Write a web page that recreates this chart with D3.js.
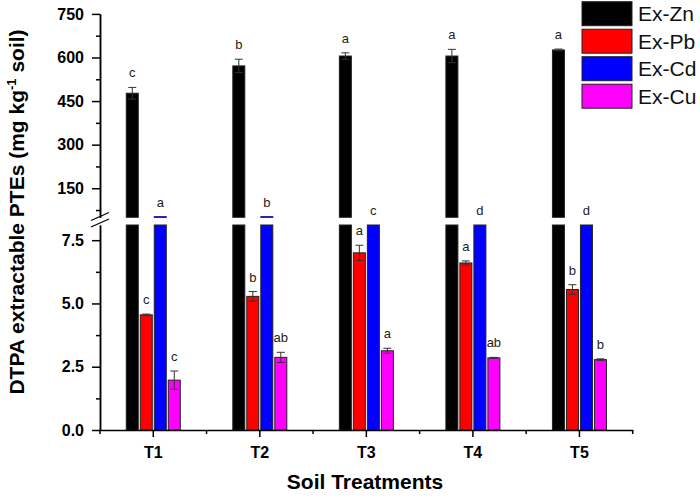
<!DOCTYPE html>
<html>
<head>
<meta charset="utf-8">
<script src="https://cdn.jsdelivr.net/npm/d3@7"></script>
<style>
  html, body { margin: 0; padding: 0; background: #ffffff; }
  svg { display: block; }
  text { font-family: "Liberation Sans", Arial, sans-serif; }
</style>
</head>
<body>
<svg id="chart" width="700" height="499"></svg>
<script>
// ---- data ----
const treatments = ["T1", "T2", "T3", "T4", "T5"];
const seriesNames = ["Ex-Zn", "Ex-Pb", "Ex-Cd", "Ex-Cu"];
const seriesColors = ["#000000", "#ff0000", "#0000ff", "#ff00ff"];

const znValues = [477, 571, 605, 605, 626];
const znErrors = [20, 23, 11, 23, 3];
const znLetters = ["c", "b", "a", "a", "a"];

const pbValues = [4.55, 5.28, 7.0, 6.6, 5.55];
const pbErrors = [0.03, 0.19, 0.30, 0.08, 0.19];
const pbLetters = ["c", "b", "a", "a", "b"];

const cdValues = [52, 52, 40, 30, 30];
const cdErrors = [0, 0, 0, 0, 0];
const cdLetters = ["a", "b", "c", "d", "d"];

const cuValues = [1.97, 2.87, 3.13, 2.85, 2.78];
const cuErrors = [0.36, 0.2, 0.1, 0.02, 0.03];
const cuLetters = ["c", "ab", "a", "ab", "b"];

const lowerTicks = [0, 2.5, 5, 7.5];
const lowerMinorTicks = [1.25, 3.75, 6.25];
const upperTicks = [150, 300, 450, 600, 750];
const upperMinorTicks = [75, 225, 375, 525, 675];
const lowerDomain = [0, 8.1];
const upperDomain = [50, 750];

const yTitle = "DTPA extractable PTEs (mg kg";
const yTitleSup = "-1";
const yTitleEnd = " soil)";
const xTitle = "Soil Treatments";

// ---- build ----
const allSeries = [
  { name: seriesNames[0], color: seriesColors[0], values: znValues, errors: znErrors, letters: znLetters },
  { name: seriesNames[1], color: seriesColors[1], values: pbValues, errors: pbErrors, letters: pbLetters },
  { name: seriesNames[2], color: seriesColors[2], values: cdValues, errors: cdErrors, letters: cdLetters },
  { name: seriesNames[3], color: seriesColors[3], values: cuValues, errors: cuErrors, letters: cuLetters }
];

const svg = d3.select("#chart");
const left = 100, right = 632.7, bottom = 430;

const x = d3.scaleBand().domain(treatments).range([left, right]).padding(0);
const x1 = d3.scaleBand().domain(seriesNames).range([-27, 27]).paddingInner(1 / 7).paddingOuter(0);
const yLow = d3.scaleLinear().domain(lowerDomain).range([bottom, 225]);
const yHigh = d3.scaleLinear().domain(upperDomain).range([217.3, 13.9]);

function topY(v) {
  if (v <= lowerDomain[1]) return yLow(v);
  if (v < upperDomain[0]) return yLow(lowerDomain[1]);
  return yHigh(v);
}

const barsG = svg.append("g");
allSeries.forEach(s => {
  treatments.forEach((t, i) => {
    const v = s.values[i];
    const bx = x(t) + x.bandwidth() / 2 + x1(s.name);
    const bw = x1.bandwidth();
    // lower segment
    const vl = Math.min(v, lowerDomain[1]);
    barsG.append("rect")
      .attr("x", bx).attr("width", bw)
      .attr("y", yLow(vl)).attr("height", yLow(0) - yLow(vl))
      .attr("fill", s.color).attr("stroke", "#222").attr("stroke-width", 1);
    // upper segment
    if (v > upperDomain[0]) {
      const h = yHigh(upperDomain[0]) - yHigh(v);
      barsG.append("rect")
        .attr("x", bx).attr("width", bw)
        .attr("y", yHigh(v)).attr("height", h)
        .attr("fill", s.color)
        .attr("stroke", h < 3 ? d3.color(s.color).darker(1.2) : "#222")
        .attr("stroke-width", 1);
    }
    // error bar
    const e = s.errors[i];
    const cx = bx + bw / 2;
    if (e > 0) {
      const yt = topY(v + e), yb = topY(v - e);
      barsG.append("line").attr("x1", cx).attr("x2", cx).attr("y1", yt).attr("y2", yb)
        .attr("stroke", "#333").attr("stroke-width", 1);
      [yt, yb].forEach(yy => {
        barsG.append("line").attr("x1", cx - 4).attr("x2", cx + 4).attr("y1", yy).attr("y2", yy)
          .attr("stroke", "#333").attr("stroke-width", 1);
      });
    }
    // letter
    barsG.append("text")
      .attr("x", cx).attr("y", topY(v + e) - 10)
      .attr("text-anchor", "middle")
      .attr("font-size", 13).attr("fill", "#222")
      .text(s.letters[i]);
  });
});

// ---- axes ----
function styleAxis(g, fs) {
  g.selectAll("path.domain").attr("stroke", "#000").attr("stroke-width", 1.5);
  g.selectAll(".tick line").attr("stroke", "#000").attr("stroke-width", 1.5);
  g.selectAll(".tick text").attr("font-size", fs).attr("font-weight", "bold")
    .attr("fill", "#000").attr("font-family", "'Liberation Sans', Arial, sans-serif");
}

const gLow = svg.append("g").attr("transform", `translate(${left},0)`)
  .call(d3.axisLeft(yLow).tickValues(lowerTicks).tickFormat(d3.format(".1f")).tickSize(8).tickSizeOuter(0).tickPadding(8));
styleAxis(gLow, 16);
const gLowMinor = svg.append("g").attr("transform", `translate(${left},0)`)
  .call(d3.axisLeft(yLow).tickValues(lowerMinorTicks).tickFormat("").tickSize(4).tickSizeOuter(0));
styleAxis(gLowMinor, 16);

const gHigh = svg.append("g").attr("transform", `translate(${left},0)`)
  .call(d3.axisLeft(yHigh).tickValues(upperTicks).tickFormat(d3.format("d")).tickSize(8).tickSizeOuter(0).tickPadding(8));
styleAxis(gHigh, 16);
const gHighMinor = svg.append("g").attr("transform", `translate(${left},0)`)
  .call(d3.axisLeft(yHigh).tickValues(upperMinorTicks).tickFormat("").tickSize(4).tickSizeOuter(0));
styleAxis(gHighMinor, 16);

// break marks
const brk = svg.append("g").attr("stroke", "#000").attr("stroke-width", 1.2);
brk.append("line").attr("x1", left - 9).attr("y1", 220.5).attr("x2", left + 9).attr("y2", 212.5);
brk.append("line").attr("x1", left - 9).attr("y1", 227).attr("x2", left + 9).attr("y2", 219);

const gx = svg.append("g").attr("transform", `translate(0,${bottom})`)
  .call(d3.axisBottom(x).tickSize(7).tickSizeOuter(0).tickPadding(10));
styleAxis(gx, 16);
const boundaries = treatments.map(t => x(t)).concat([x.range()[1]]);
gx.selectAll("line.minor").data(boundaries).enter().append("line")
  .attr("class", "minor")
  .attr("x1", d => d).attr("x2", d => d).attr("y1", 0).attr("y2", 4)
  .attr("stroke", "#000").attr("stroke-width", 1.5);

// titles
svg.append("text")
  .attr("x", 365).attr("y", 489)
  .attr("text-anchor", "middle").attr("font-size", 21).attr("font-weight", "bold")
  .text(xTitle);

const yt = svg.append("text")
  .attr("transform", "translate(24,212) rotate(-90)")
  .attr("text-anchor", "middle").attr("font-size", 21).attr("font-weight", "bold");
yt.append("tspan").text(yTitle);
yt.append("tspan").attr("font-size", 13).attr("dy", -8).text(yTitleSup);
yt.append("tspan").attr("dy", 8).text(yTitleEnd);

// legend
const lg = svg.append("g");
allSeries.forEach((s, i) => {
  const yy = 1.7 + i * 27.5;
  lg.append("rect").attr("x", 582).attr("y", yy).attr("width", 50).attr("height", 24)
    .attr("fill", s.color).attr("stroke", "#222").attr("stroke-width", 1);
  lg.append("text").attr("x", 638).attr("y", yy + 12).attr("dy", "0.35em")
    .attr("font-size", 21).attr("fill", "#111").text(s.name);
});
</script>
</body>
</html>
